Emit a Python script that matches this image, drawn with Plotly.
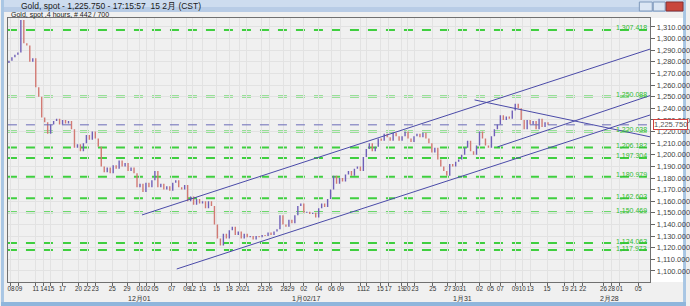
import plotly.graph_objects as go

W, H = 690, 306

# ---- data ----
close_prices = [
    1281, 1284, 1286, 1288, 1316, 1296, 1294, 1280, 1283, 1258, 1250, 1232, 1228, 1218, 1226, 1229,
    1231, 1226, 1230, 1227, 1229, 1222, 1206, 1209, 1203, 1210, 1217, 1213, 1220, 1214, 1207, 1190,
    1185, 1189, 1184, 1191, 1188, 1195, 1190, 1193, 1186, 1189, 1184, 1172, 1175, 1168, 1176, 1172,
    1178, 1186, 1172, 1175, 1170, 1173, 1169, 1176, 1178, 1172, 1170, 1174, 1160, 1164, 1157, 1162,
    1158, 1160, 1154, 1160, 1156, 1140, 1128, 1122, 1132, 1128, 1135, 1138, 1131, 1134, 1128, 1132,
    1129, 1130, 1127, 1130, 1129, 1131, 1130, 1133, 1131, 1134, 1136, 1148, 1140, 1138, 1144, 1141,
    1148, 1156, 1158, 1150, 1151, 1149, 1150, 1146, 1154, 1158, 1155, 1162, 1170, 1182, 1175, 1180,
    1177, 1183, 1186, 1182, 1188, 1190, 1186, 1198, 1205, 1210, 1203, 1207, 1214, 1212, 1218, 1215,
    1212, 1219, 1216, 1212, 1216, 1220, 1214, 1211, 1216, 1218, 1215, 1219, 1214, 1210, 1202, 1206,
    1196, 1190, 1186, 1182, 1192, 1190, 1194, 1196, 1200, 1206, 1212, 1203, 1200, 1208, 1220, 1214,
    1208, 1206, 1216, 1222, 1226, 1234, 1230, 1233, 1231, 1238, 1244, 1240, 1230, 1222, 1230, 1226,
    1229, 1222, 1231, 1224, 1228, 1225.75,
]
first_open = 1279
current_price = 1225.75

level_values = [1307.418, 1250.088, 1220.038, 1206.182, 1197.304, 1180.979, 1162.603, 1150.469, 1124.063, 1117.973]
level_labels = ["1,307.418", "1,250.088", "1,220.038", "1,206.182", "1,197.304", "1,180.979",
                "1,162.603", "1,150.469", "1,124.063", "1,117.973"]

# trend lines: (start slot, start price, end slot, end price)
trend_lines = [
    (135, 1148.2, 647, 1291.0),
    (170, 1101.7, 647, 1234.3),
    (493, 1206.7, 647, 1251.0),
    (470, 1247.2, 647, 1215.4),
]

tick_slots = [3, 11, 28, 36, 43, 55, 71, 80, 88, 105, 120, 133, 140, 148, 165, 180, 186, 196, 210, 223,
              233, 240, 255, 263, 278, 285, 298, 313, 326, 335, 355, 361, 375, 383, 396, 402, 410, 428,
              443, 451, 458, 475, 486, 496, 511, 518, 526, 543, 561, 570, 579, 600, 608, 616, 635]
tick_labels = ["08", "09", "11", "14", "15", "17", "20", "22", "23", "25", "29", "01", "02", "05", "07",
               "09", "12", "13", "15", "18", "20", "21", "23", "26", "28", "29", "02", "04", "06", "09",
               "11", "12", "15", "17", "19", "20", "23", "25", "27", "30", "31", "02", "05", "07", "09",
               "10", "13", "15", "19", "21", "22", "26", "28", "01", "05"]
month_slots = [133, 301, 458, 606]
month_labels = ["12月01", "1月02/17", "1月31", "2月28"]

y_ticks = list(range(1100, 1320, 10))

# ---- derived ----
slots = [1 + 3 * i for i in range(len(close_prices))]
opens = [first_open] + close_prices[:-1]
highs = [max(o, c) for o, c in zip(opens, close_prices)]
lows = [min(o, c) for o, c in zip(opens, close_prices)]

X0, X1 = 7 / W, 654 / W
Y0, Y1 = 1 - 282 / H, 1 - 18 / H
FONT = "Liberation Sans, Arial"

fig = go.Figure()

# green support/resistance levels
for v in level_values:
    fig.add_shape(type="line", xref="x", yref="y", x0=0, x1=647, y0=v, y1=v,
                  line=dict(color="#3fcf3f", width=2, dash="dash"), layer="below")

# current price line
fig.add_shape(type="line", xref="x", yref="y", x0=0, x1=647, y0=current_price, y1=current_price,
              line=dict(color="#6a6ab8", width=1, dash="dash"))

fig.add_trace(go.Ohlc(
    x=slots, open=opens, high=highs, low=lows, close=close_prices,
    increasing=dict(line=dict(color="#6f5fb8", width=1.4)),
    decreasing=dict(line=dict(color="#d27a74", width=1.4)),
    tickwidth=0, showlegend=False, hoverinfo="skip",
))

for (xa, ya, xb, yb) in trend_lines:
    fig.add_trace(go.Scatter(x=[xa, xb], y=[ya, yb], mode="lines",
                             line=dict(color="#4a4aa8", width=1), showlegend=False, hoverinfo="skip"))

annotations = []
for v, t in zip(level_values, level_labels):
    annotations.append(dict(x=X1 - 0.002, xref="paper", y=v, yref="y", text=t, showarrow=False,
                            xanchor="right", yanchor="bottom", yshift=-3.5,
                            font=dict(family=FONT, size=7, color="#33bb33")))

annotations.append(dict(x=X1 + 0.004, xref="paper", y=current_price, yref="y", text="1,225.750",
                        showarrow=False, xanchor="left", yanchor="middle",
                        bgcolor="#ffffff", bordercolor="#d04040", borderwidth=1, borderpad=0,
                        font=dict(family=FONT, size=7.5, color="#555555")))

for s, t in zip(month_slots, month_labels):
    annotations.append(dict(x=s, xref="x", y=1 - 298 / H, yref="paper", text=t, showarrow=False,
                            xanchor="center", yanchor="middle",
                            font=dict(family=FONT, size=7, color="#333333")))

annotations.append(dict(x=18 / W, xref="paper", y=1 - 6 / H, yref="paper",
                        text="Gold, spot - 1,225.750 - 17:15:57  15 2月 (CST)", showarrow=False,
                        xanchor="left", yanchor="middle",
                        font=dict(family=FONT, size=8.5, color="#1a1a1a")))
annotations.append(dict(x=8 / W, xref="paper", y=1 - 15 / H, yref="paper",
                        text="Gold, spot ,4 hours, # 442 / 700", showarrow=False,
                        xanchor="left", yanchor="middle",
                        font=dict(family=FONT, size=7, color="#1a1a1a")))

shapes = list(fig.layout.shapes)
# window chrome
shapes += [
    dict(type="rect", xref="paper", yref="paper", x0=0, x1=1, y0=1 - 7 / H, y1=1,
         fillcolor="#cddcef", line=dict(width=0), layer="below"),
    dict(type="rect", xref="paper", yref="paper", x0=0, x1=1, y0=1 - 12 / H, y1=1 - 7 / H,
         fillcolor="#b8cce6", line=dict(width=0), layer="below"),
    dict(type="rect", xref="paper", yref="paper", x0=0, x1=3 / W, y0=0, y1=1,
         fillcolor="#a9c6e4", line=dict(width=0), layer="below"),
    dict(type="rect", xref="paper", yref="paper", x0=1 - 3 / W, x1=1, y0=0, y1=1,
         fillcolor="#a9c6e4", line=dict(width=0), layer="below"),
    dict(type="rect", xref="paper", yref="paper", x0=0, x1=1, y0=0, y1=4 / H,
         fillcolor="#8fb6dc", line=dict(width=0), layer="below"),
    dict(type="rect", xref="paper", yref="paper", x0=3 / W, x1=1 - 3 / W, y0=4 / H, y1=1 - 12 / H,
         fillcolor="#f0f0f0", line=dict(width=0), layer="below"),
    dict(type="rect", xref="paper", yref="paper", x0=X1, x1=1 - 3 / W, y0=Y0, y1=Y1,
         fillcolor="#ffffff", line=dict(width=0), layer="below"),
    dict(type="rect", xref="paper", yref="paper", x0=643 / W, x1=656 / W, y0=1 - 11 / H, y1=1 - 2 / H,
         fillcolor="#dbe6f4", line=dict(color="#7f99bb", width=1)),
    dict(type="rect", xref="paper", yref="paper", x0=657 / W, x1=669 / W, y0=1 - 11 / H, y1=1 - 2 / H,
         fillcolor="#dbe6f4", line=dict(color="#7f99bb", width=1)),
    dict(type="rect", xref="paper", yref="paper", x0=670 / W, x1=687 / W, y0=1 - 11 / H, y1=1 - 2 / H,
         fillcolor="#c9463d", line=dict(color="#8a3030", width=1)),
]

fig.update_layout(
    width=W, height=H, margin=dict(l=0, r=0, t=0, b=0),
    paper_bgcolor="#f0f0f0", plot_bgcolor="#ffffff",
    shapes=shapes, annotations=annotations,
    font=dict(family=FONT, size=7, color="#333333"),
    xaxis=dict(domain=[X0, X1], range=[0, 647], tickmode="array", tickvals=tick_slots,
               ticktext=tick_labels, showgrid=True, gridcolor="#e2e2e2", gridwidth=1,
               ticks="outside", ticklen=3, tickcolor="#666666", showline=True, linecolor="#707070",
               linewidth=1, mirror=True, zeroline=False, rangeslider=dict(visible=False),
               tickfont=dict(family=FONT, size=6.3, color="#333333"), fixedrange=True, tickangle=0,
               ticklabelstandoff=-3),
    yaxis=dict(domain=[Y0, Y1], range=[1090.5, 1317.7], side="right", tickmode="array",
               tickvals=y_ticks, tickformat=",.3f", showgrid=True, gridcolor="#e2e2e2",
               ticks="outside", ticklen=4, tickcolor="#666666", showline=True, linecolor="#707070",
               linewidth=1, mirror=True, zeroline=False,
               tickfont=dict(family=FONT, size=7.5, color="#444444"), fixedrange=True),
    showlegend=False,
)

fig.write_html("out.html", config={"displayModeBar": False})
